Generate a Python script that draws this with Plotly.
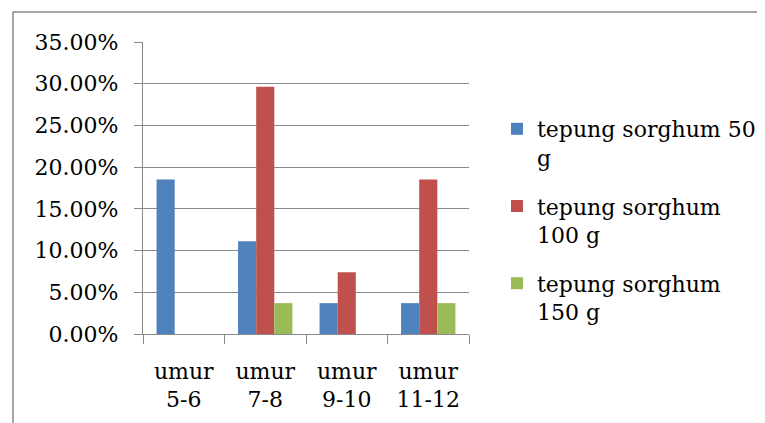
import plotly.graph_objects as go

categories = ["umur<br>5-6", "umur<br>7-8", "umur<br>9-10", "umur<br>11-12"]
series_names = ["tepung sorghum 50<br>g", "tepung sorghum<br>100 g", "tepung sorghum<br>150 g"]
s50 = [0.1852, 0.1111, 0.0370, 0.0370]
s100 = [0.0, 0.2963, 0.0741, 0.1852]
s150 = [0.0, 0.0370, 0.0, 0.0370]
colors = ["#4F81BD", "#C0504D", "#9BBB59"]

FONT = "DejaVu Serif"
GRID = "#898989"

fig = go.Figure()
for name, vals, col in zip(series_names, [s50, s100, s150], colors):
    fig.add_trace(go.Bar(x=categories, y=vals, name=name, marker=dict(color=col, line=dict(width=0)),
                         legendgroup=name))

# page body has an 8px margin; compensate so the plot area lands at x 143..469, y 42..334
OFF = 8
W, H = 765, 423
L, T = 143 - OFF, 42 - OFF
pw, ph = 326, 292
R = W - L - pw
B = H - T - ph

def px_x(x):  # absolute page x -> paper x
    return (x - 143) / pw

def px_y(y):  # absolute page y -> paper y
    return (334 - y) / ph

fig.update_layout(
    width=W, height=H,
    margin=dict(l=L, r=R, t=T, b=B, pad=0),
    paper_bgcolor="white", plot_bgcolor="white",
    font=dict(family=FONT, size=22, color="#000000"),
    barmode="group", bargap=0.333, bargroupgap=0,
    showlegend=True,
    legend=dict(x=px_x(497), xanchor="left", y=px_y(108), yanchor="top",
                valign="top", font=dict(family=FONT, size=22), tracegroupgap=17,
                bgcolor="rgba(0,0,0,0)", itemwidth=30),
    xaxis=dict(showline=True, linecolor=GRID, linewidth=1.3, ticks="outside", tickson="boundaries",
               ticklen=9, tickcolor=GRID, tickwidth=1.3, showgrid=False,
               tickfont=dict(family=FONT, size=22), ticklabelstandoff=17),
    yaxis=dict(range=[0, 0.35], dtick=0.05, tickformat=".2%", showline=True, linecolor=GRID,
               linewidth=1.3, gridcolor=GRID, gridwidth=1.3, ticks="outside", ticklen=8,
               tickcolor=GRID, tickwidth=1.3, zeroline=False,
               tickfont=dict(family=FONT, size=22), ticklabelstandoff=11),
    shapes=[dict(type="rect", xref="paper", yref="paper",
                 x0=px_x(13), x1=px_x(800), y0=px_y(460), y1=px_y(12),
                 line=dict(color="#8a8a8a", width=1.5), fillcolor="rgba(0,0,0,0)", layer="below")],
)

fig.write_html("out.html")
